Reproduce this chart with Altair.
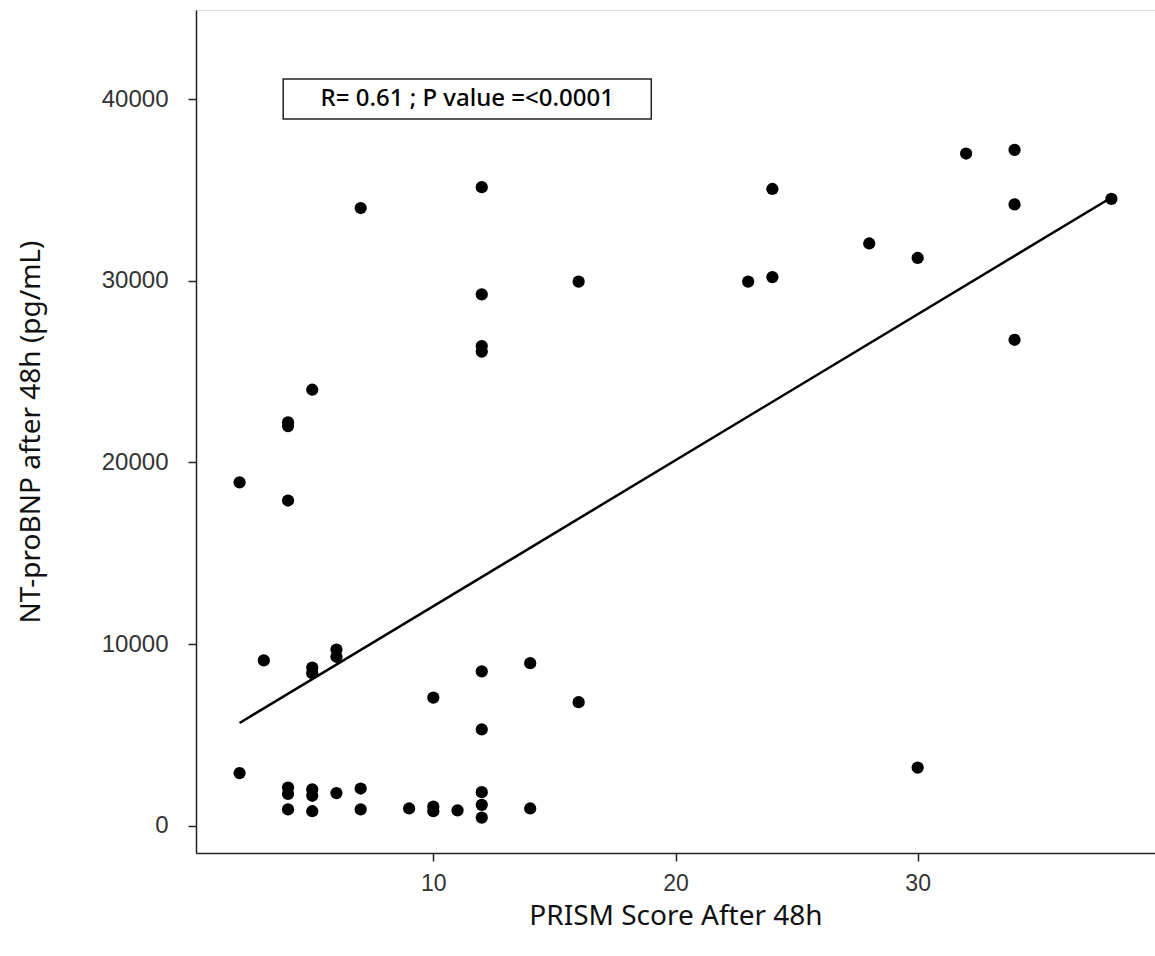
import altair as alt
import pandas as pd

# PRISM score after 48h (x) and NT-proBNP after 48h (y)
prism = [2, 2,
         3,
         4, 4, 4, 4, 4, 4,
         5, 5, 5, 5, 5, 5,
         6, 6, 6,
         7, 7, 7,
         9,
         10, 10, 10,
         11,
         12, 12, 12, 12, 12, 12, 12, 12, 12,
         14, 14,
         16, 16,
         23,
         24, 24,
         28,
         30, 30,
         32,
         34, 34, 34,
         38]
ntprobnp = [18900, 2900,
            9100,
            22200, 22000, 17900, 2100, 1750, 900,
            24000, 8700, 8400, 2000, 1650, 800,
            9700, 9300, 1800,
            34000, 2050, 900,
            950,
            7050, 1050, 800,
            850,
            35150, 29250, 26400, 26100, 8500, 5300, 1850, 1150, 450,
            8950, 950,
            29950, 6800,
            29950,
            35050, 30200,
            32050,
            31250, 3200,
            37000,
            37200, 34200, 26750,
            34500]

annot_text = ["R= 0.61 ; P value =<0.0001"]
annot_x = [11.4]
annot_y = [40000]

df = pd.DataFrame({"x": prism, "y": ntprobnp})
ann = pd.DataFrame({"label": annot_text, "x": annot_x, "y": annot_y})

TITLE_FONT = "Noto Sans"
LABEL_FONT = "Liberation Sans"

xscale = alt.Scale(domain=[0.2, 39.8], nice=False, zero=False)
yscale = alt.Scale(domain=[-1500, 44900], nice=False, zero=False)

xaxis = alt.Axis(
    title="PRISM Score After 48h", values=[10, 20, 30], grid=False,
    domainColor="#222222", domainWidth=1.5, tickColor="#222222", tickWidth=1.5,
    tickSize=8, labelFont=LABEL_FONT, labelFontSize=23, labelColor="#333333",
    labelPadding=11, titleFont=TITLE_FONT, titleFontSize=28, titleFontWeight="normal",
    titleColor="#111111", titlePadding=7,
)
yaxis = alt.Axis(
    title="NT-proBNP after 48h (pg/mL)", values=[0, 10000, 20000, 30000, 40000],
    grid=False, format="d",
    domainColor="#222222", domainWidth=1.5, tickColor="#222222", tickWidth=1.5,
    tickSize=8, labelFont=LABEL_FONT, labelFontSize=24, labelColor="#333333",
    labelPadding=20, titleFont=TITLE_FONT, titleFontSize=28, titleFontWeight="normal",
    titleColor="#111111", titlePadding=56,
)

base = alt.Chart(df)

points = base.mark_circle(size=150, color="black", opacity=1).encode(
    x=alt.X("x:Q", scale=xscale, axis=xaxis),
    y=alt.Y("y:Q", scale=yscale, axis=yaxis),
)

line = base.transform_regression("x", "y", extent=[2, 38]).mark_line(
    color="black", strokeWidth=2.5
).encode(
    x=alt.X("x:Q", scale=xscale),
    y=alt.Y("y:Q", scale=yscale),
)

box = alt.Chart(ann).mark_text(
    font=TITLE_FONT, fontSize=24, fontWeight=500, color="black",
    align="center", baseline="middle"
).encode(
    x=alt.X("x:Q", scale=xscale),
    y=alt.Y("y:Q", scale=yscale),
    text="label:N",
)

rect = alt.Chart(ann).mark_rect(
    fill="white", stroke="#222222", strokeWidth=1.5
).encode(
    x=alt.X("x:Q", scale=xscale),
    y=alt.Y("y:Q", scale=yscale),
    x2=alt.X2("x_lo:Q"),
    y2=alt.Y2("y_lo:Q"),
).transform_calculate(
    x_lo="datum.x - 7.6", y_lo="datum.y - 1100"
).transform_calculate(
    x="datum.x + 7.6", y="datum.y + 1100"
)

chart = alt.layer(rect, box, points, line).properties(
    width=959, height=843,
    autosize=alt.AutoSizeParams(type="none"),
    padding={"left": 196, "top": 10, "right": 0, "bottom": 103},
).configure_view(stroke=None).configure(background="white")

chart.save("out.html", embed_options={"renderer": "svg", "actions": False})
